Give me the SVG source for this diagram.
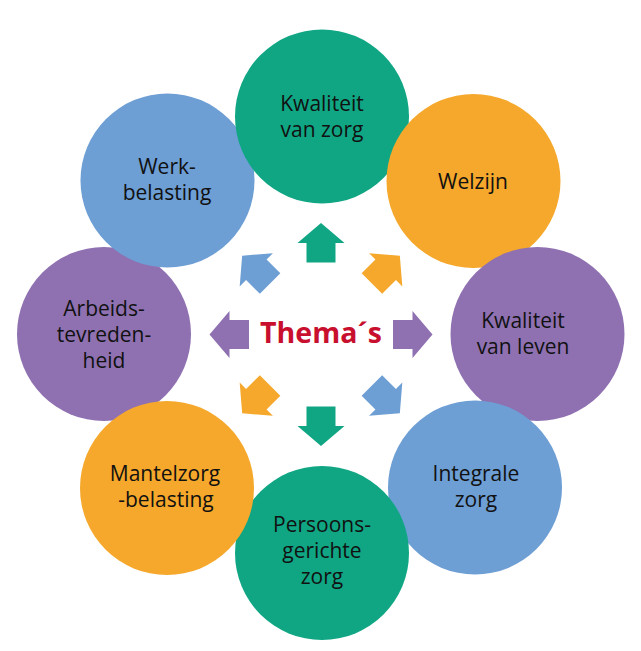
<svg xmlns="http://www.w3.org/2000/svg" width="641" height="651" viewBox="0 0 641 651">
  <style>
    .green{fill:#10A683}
    .orange{fill:#F5A82B}
    .purple{fill:#8F71B1}
    .blue{fill:#6D9ED4}
    .lbl{font-family:"Open Sans","Noto Sans","Liberation Sans",sans-serif;font-size:21px;fill:#111;text-anchor:middle}
    .title{font-family:"Open Sans","Noto Sans","Liberation Sans",sans-serif;font-size:28.5px;font-weight:bold;fill:#C8102E;text-anchor:middle}
  </style>
  <defs>
    <path id="arr" d="M0,-111.5 L23.5,-91.5 L14.5,-91.5 L14.5,-72 L-14.5,-72 L-14.5,-91.5 L-23.5,-91.5 Z"/>
  </defs>
  <rect width="641" height="651" fill="#fff"/>

  <g id="arbeidstevredenheid">
    <circle class="purple" cx="104" cy="334" r="87"/>
    <text class="lbl" x="104"><tspan x="104" y="316">Arbeids-</tspan><tspan x="104" y="342">tevreden-</tspan><tspan x="104" y="368">heid</tspan></text>
  </g>
  <g id="werkbelasting">
    <circle class="blue" cx="167.5" cy="180.5" r="87"/>
    <text class="lbl"><tspan x="167" y="174">Werk-</tspan><tspan x="167" y="200">belasting</tspan></text>
  </g>
  <g id="kwaliteit-van-zorg">
    <circle class="green" cx="322" cy="116.5" r="87"/>
    <text class="lbl"><tspan x="322" y="110.5">Kwaliteit</tspan><tspan x="322" y="136.5">van zorg</tspan></text>
  </g>
  <g id="welzijn">
    <circle class="orange" cx="473.5" cy="181" r="87"/>
    <text class="lbl" x="473" y="189">Welzijn</text>
  </g>
  <g id="kwaliteit-van-leven">
    <circle class="purple" cx="537.5" cy="334" r="87"/>
    <text class="lbl"><tspan x="523" y="328">Kwaliteit</tspan><tspan x="523" y="354">van leven</tspan></text>
  </g>
  <g id="integrale-zorg">
    <circle class="blue" cx="475" cy="487.5" r="87"/>
    <text class="lbl"><tspan x="476" y="481">Integrale</tspan><tspan x="476" y="507">zorg</tspan></text>
  </g>
  <g id="persoonsgerichte-zorg">
    <circle class="green" cx="322" cy="553" r="87"/>
    <text class="lbl"><tspan x="322" y="532">Persoons-</tspan><tspan x="322" y="558">gerichte</tspan><tspan x="322" y="584">zorg</tspan></text>
  </g>
  <g id="mantelzorgbelasting">
    <circle class="orange" cx="167" cy="488" r="87"/>
    <text class="lbl"><tspan x="165" y="481">Mantelzorg</tspan><tspan x="166" y="507">-belasting</tspan></text>
  </g>

  <g id="connectors" transform="translate(321,334.5)">
    <use href="#arr" class="green"/>
    <use href="#arr" class="orange" transform="rotate(45)"/>
    <use href="#arr" class="purple" transform="rotate(90)"/>
    <use href="#arr" class="blue" transform="rotate(135)"/>
    <use href="#arr" class="green" transform="rotate(180)"/>
    <use href="#arr" class="orange" transform="rotate(225)"/>
    <use href="#arr" class="purple" transform="rotate(270)"/>
    <use href="#arr" class="blue" transform="rotate(315)"/>
  </g>

  <g id="center">
    <text class="title" x="321" y="343">Thema´s</text>
  </g>
</svg>
